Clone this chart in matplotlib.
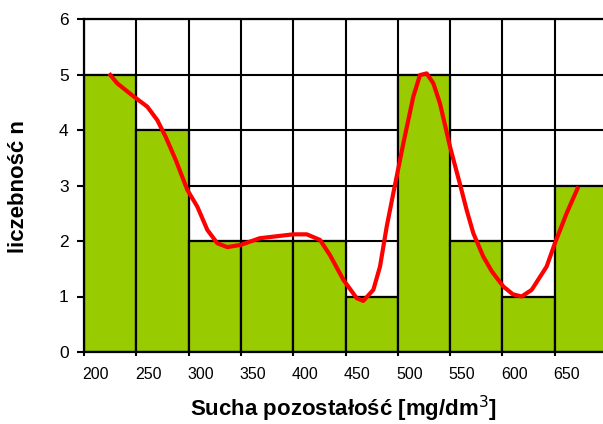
import matplotlib
matplotlib.use("Agg")
import matplotlib.pyplot as plt
import matplotlib.transforms as mtransforms

# histogram bins (left edges, width 50) and counts
bin_left = [200, 250, 300, 350, 400, 450, 500, 550, 600, 650]
counts = [5, 4, 2, 2, 2, 1, 5, 2, 1, 3]
x_ticks = [200, 250, 300, 350, 400, 450, 500, 550, 600, 650]

# red freehand/smoothed curve
curve_x = [223.9, 231.8, 247.8, 260.5, 270.0, 278.0, 287.7, 298.8, 308.3, 317.9,
           327.4, 337.0, 349.8, 368.0, 400.0, 413.0, 425.6, 435.0, 448.0, 460.7,
           467.0, 476.6, 483.0, 489.4, 495.7, 505.3, 514.8, 521.2, 527.6, 534.0,
           540.3, 549.9, 559.5, 565.8, 572.2, 581.7, 590.0, 600.9, 610.0, 618.4,
           628.0, 642.3, 650.2, 661.4, 672.6]
curve_y = [5.02, 4.84, 4.60, 4.42, 4.18, 3.88, 3.46, 2.92, 2.62, 2.20,
           1.96, 1.89, 1.93, 2.05, 2.12, 2.12, 2.02, 1.75, 1.30, 0.97,
           0.92, 1.12, 1.54, 2.26, 2.86, 3.76, 4.60, 4.99, 5.02, 4.84,
           4.48, 3.70, 3.02, 2.56, 2.14, 1.72, 1.45, 1.18, 1.04, 1.00,
           1.12, 1.54, 1.96, 2.50, 2.98]

plt.rcParams['font.family'] = ['Liberation Sans', 'DejaVu Sans']

fig = plt.figure(figsize=(6.03, 4.24), dpi=100)
ax = fig.add_axes([84 / 603, 72 / 424, 523 / 603, 333 / 424])

ax.bar(bin_left, counts, width=50, align='edge', color='#99CC00',
       edgecolor='black', linewidth=1.6, zorder=2)
ax.plot(curve_x, curve_y, color='#FF0000', linewidth=3.0, zorder=3,
        solid_capstyle='butt', solid_joinstyle='round')

ax.set_xlim(200, 700)
ax.set_ylim(0, 6)
ax.set_xticks(x_ticks)
ax.set_xticklabels([str(t) for t in x_ticks], fontsize=11.5)
ax.set_yticks(range(7))
ax.tick_params(axis='y', labelsize=12.5, length=5, width=1.5, pad=6)
ax.tick_params(axis='x', length=3, width=1.5, pad=8)
# Excel puts the category labels just right of the tick
offset = mtransforms.ScaledTranslation(-1 / 72, 0, fig.dpi_scale_trans)
for lab in ax.get_xticklabels():
    lab.set_ha('left')
    lab.set_transform(lab.get_transform() + offset)

ax.grid(True, color='black', linewidth=1.5, zorder=1)
ax.set_axisbelow(True)
for s in ax.spines.values():
    s.set_linewidth(1.6)

fig.text(343 / 603, 1 - 409 / 424, 'Sucha pozostałość [mg/dm$^3$]',
         fontsize=16, fontweight='bold', ha='center', va='center')
fig.text(19 / 603, 1 - 187 / 424, 'liczebność n', rotation=90,
         fontsize=16, fontweight='bold', ha='center', va='center')

fig.savefig('out.png', dpi=100)
